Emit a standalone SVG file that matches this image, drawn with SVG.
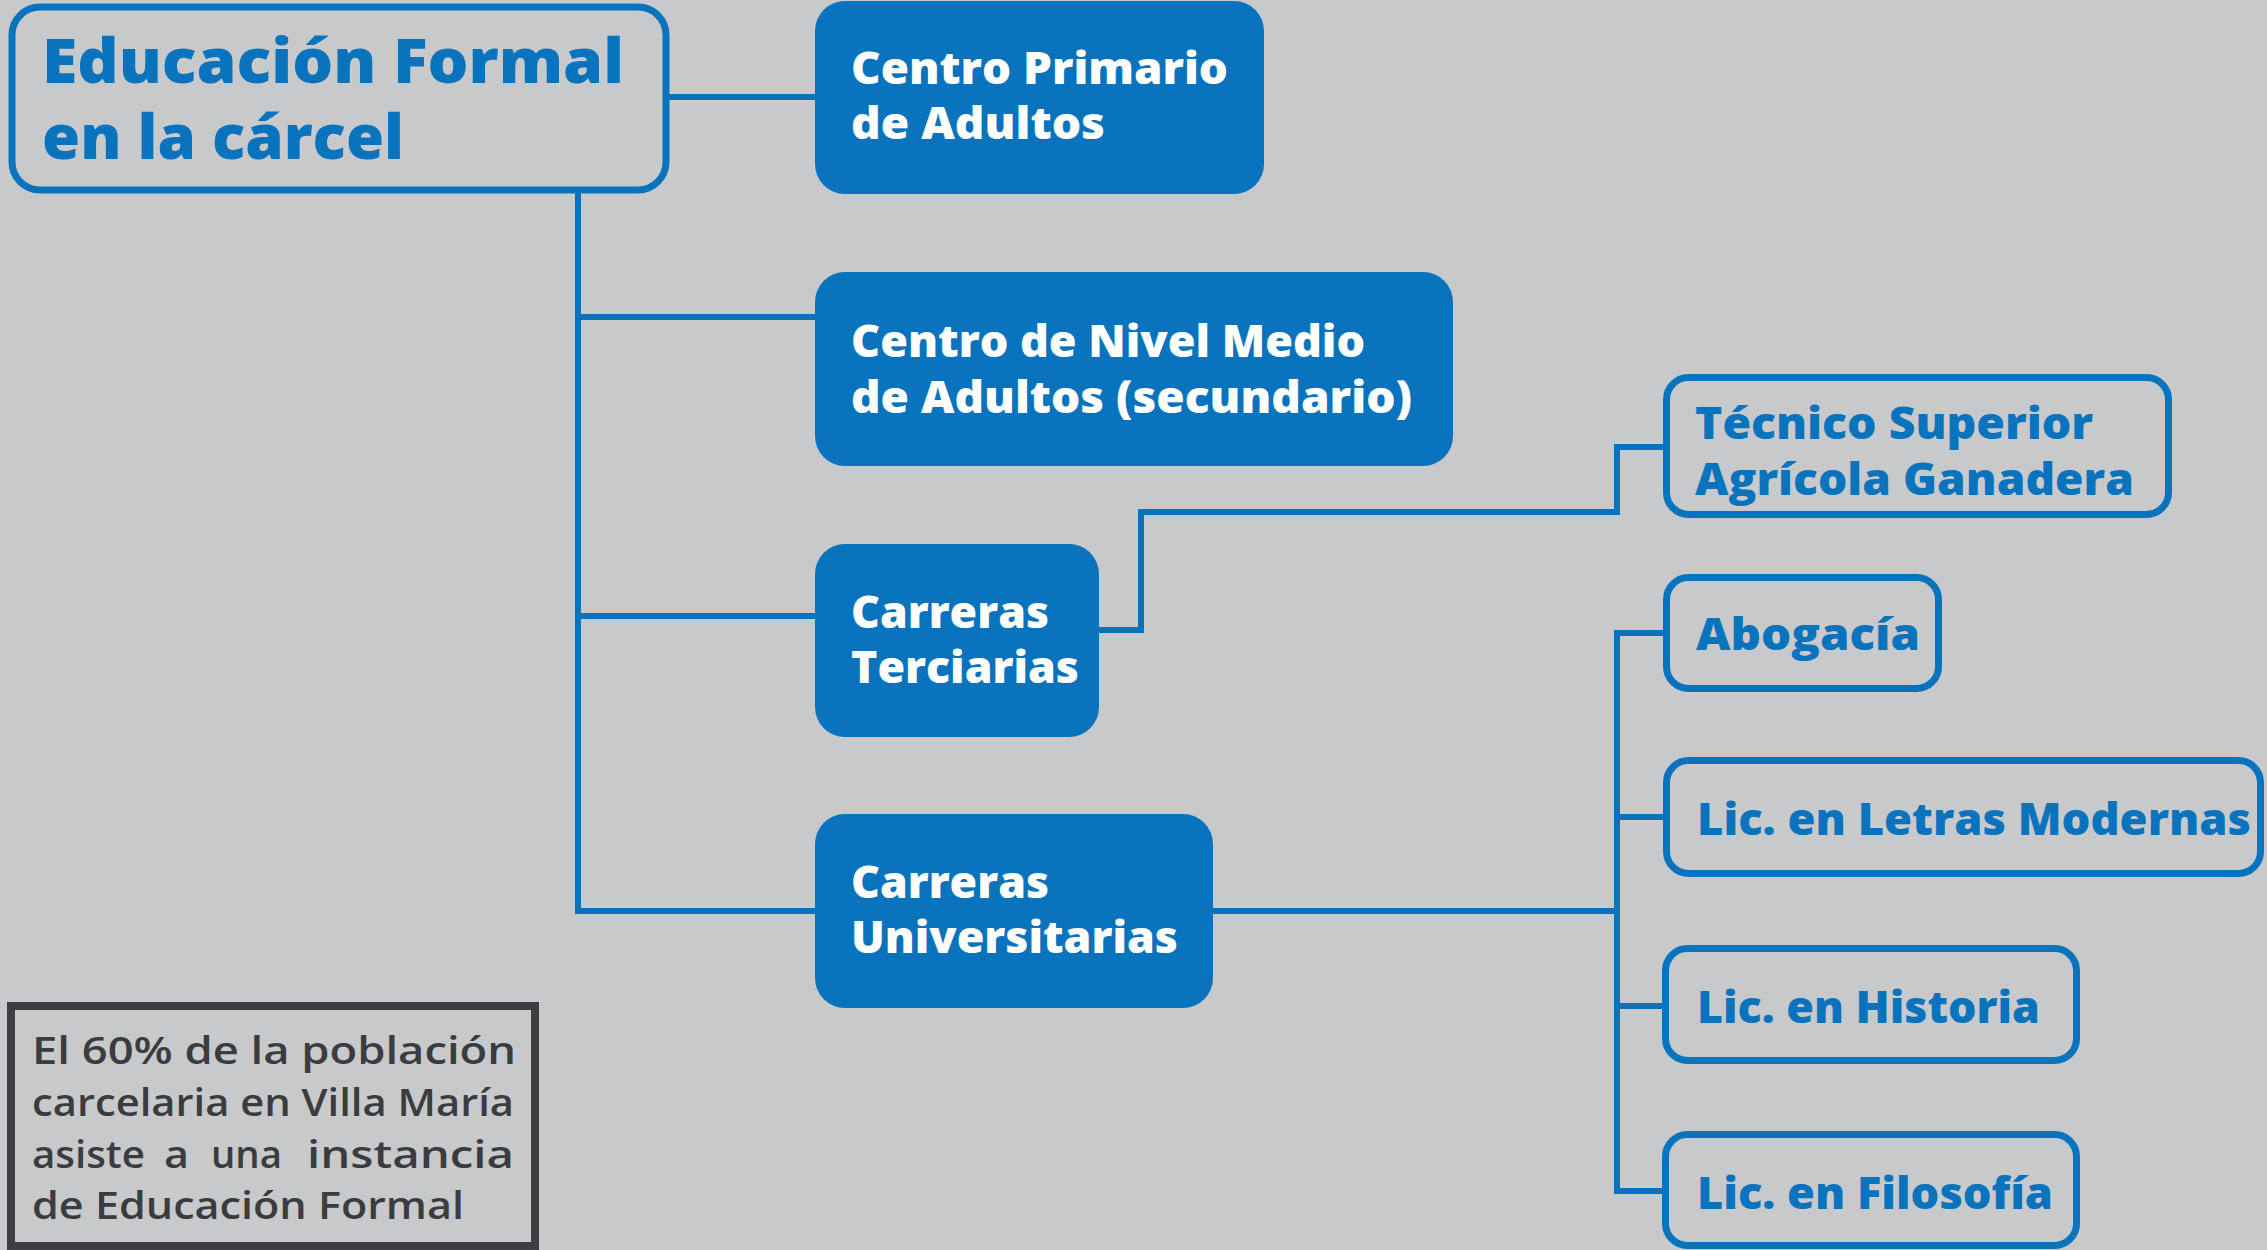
<svg xmlns="http://www.w3.org/2000/svg" width="2267" height="1250" viewBox="0 0 2267 1250">
<style>
.fill{fill:#0A73BD}
.out{fill:none;stroke:#0A73BD;stroke-width:7}
.conn path{fill:none;stroke:#0A73BD;stroke-width:6}
.lbl{font-family:"Open Sans","Liberation Sans",sans-serif;font-weight:800;font-size:45px}
.wt{fill:#FFFFFF}
.bt{fill:#0A73BD}
.title{font-family:"Open Sans","Liberation Sans",sans-serif;font-weight:800;font-size:62px;fill:#0A73BD}
.note{font-family:"Open Sans","Liberation Sans",sans-serif;font-weight:600;font-size:38px;fill:#3B3C40}
</style>
<rect x="0" y="0" width="2267" height="1250" fill="#C7C9CB"/>
<g id="connectors" class="conn">
<path d="M666 97 H815"/>
<path d="M578 190 V911 H815"/>
<path d="M578 317 H815"/>
<path d="M578 616 H815"/>
<path d="M1099 630 H1141 V512 H1617 V447 H1663"/>
<path d="M1213 911 H1617"/>
<path d="M1663 633 H1617 V1191 H1663"/>
<path d="M1617 817 H1663"/>
<path d="M1617 1006 H1663"/>
</g>
<g id="root">
<rect class="out" x="12" y="7" width="654" height="183" rx="28"/>
<text class="title" x="42" y="83" textLength="582" lengthAdjust="spacingAndGlyphs">Educación Formal</text>
<text class="title" x="42" y="159" textLength="362" lengthAdjust="spacingAndGlyphs">en la cárcel</text>
</g>
<g id="centro-primario">
<rect class="fill" x="815" y="1" width="449" height="193" rx="30"/>
<text class="lbl wt" x="851" y="84" textLength="377" lengthAdjust="spacingAndGlyphs">Centro Primario</text>
<text class="lbl wt" x="851" y="139" textLength="254" lengthAdjust="spacingAndGlyphs">de Adultos</text>
</g>
<g id="centro-nivel-medio">
<rect class="fill" x="815" y="272" width="638" height="194" rx="30"/>
<text class="lbl wt" x="851" y="357" textLength="514" lengthAdjust="spacingAndGlyphs">Centro de Nivel Medio</text>
<text class="lbl wt" x="851" y="413" textLength="561" lengthAdjust="spacingAndGlyphs">de Adultos (secundario)</text>
</g>
<g id="carreras-terciarias">
<rect class="fill" x="815" y="544" width="284" height="193" rx="30"/>
<text class="lbl wt" x="851" y="628" textLength="198" lengthAdjust="spacingAndGlyphs">Carreras</text>
<text class="lbl wt" x="851" y="683" textLength="228" lengthAdjust="spacingAndGlyphs">Terciarias</text>
</g>
<g id="carreras-universitarias">
<rect class="fill" x="815" y="814" width="398" height="194" rx="30"/>
<text class="lbl wt" x="851" y="898" textLength="198" lengthAdjust="spacingAndGlyphs">Carreras</text>
<text class="lbl wt" x="851" y="953" textLength="327" lengthAdjust="spacingAndGlyphs">Universitarias</text>
</g>
<g id="tecnico-superior">
<rect class="out" x="1666.5" y="377.5" width="502" height="137" rx="22"/>
<text class="lbl bt" x="1695" y="439" textLength="398" lengthAdjust="spacingAndGlyphs">Técnico Superior</text>
<text class="lbl bt" x="1695" y="495" textLength="439" lengthAdjust="spacingAndGlyphs">Agrícola Ganadera</text>
</g>
<g id="abogacia">
<rect class="out" x="1666.5" y="577.5" width="272" height="111" rx="22"/>
<text class="lbl bt" x="1696" y="650" textLength="224" lengthAdjust="spacingAndGlyphs">Abogacía</text>
</g>
<g id="letras-modernas">
<rect class="out" x="1666.5" y="760.5" width="594" height="113" rx="22"/>
<text class="lbl bt" x="1697" y="835" textLength="554" lengthAdjust="spacingAndGlyphs">Lic. en Letras Modernas</text>
</g>
<g id="historia">
<rect class="out" x="1665.5" y="948.5" width="411" height="112" rx="22"/>
<text class="lbl bt" x="1697" y="1023" textLength="343" lengthAdjust="spacingAndGlyphs">Lic. en Historia</text>
</g>
<g id="filosofia">
<rect class="out" x="1665.5" y="1134.5" width="411" height="111" rx="22"/>
<text class="lbl bt" x="1697" y="1209" textLength="356" lengthAdjust="spacingAndGlyphs">Lic. en Filosofía</text>
</g>
<g id="note">
<rect x="11" y="1006" width="524" height="240" fill="none" stroke="#3E3F43" stroke-width="8"/>
<text class="note" x="32" y="1064" textLength="484" lengthAdjust="spacingAndGlyphs">El 60% de la población</text>
<text class="note" x="32" y="1116" textLength="482" lengthAdjust="spacingAndGlyphs">carcelaria en Villa María</text>
<text class="note" y="1168"><tspan x="32" textLength="113" lengthAdjust="spacingAndGlyphs">asiste</tspan> <tspan x="164" textLength="25" lengthAdjust="spacingAndGlyphs">a</tspan> <tspan x="211" textLength="71" lengthAdjust="spacingAndGlyphs">una</tspan> <tspan x="307" textLength="207" lengthAdjust="spacingAndGlyphs">instancia</tspan></text>
<text class="note" x="32" y="1219" textLength="432" lengthAdjust="spacingAndGlyphs">de Educación Formal</text>
</g>
</svg>
